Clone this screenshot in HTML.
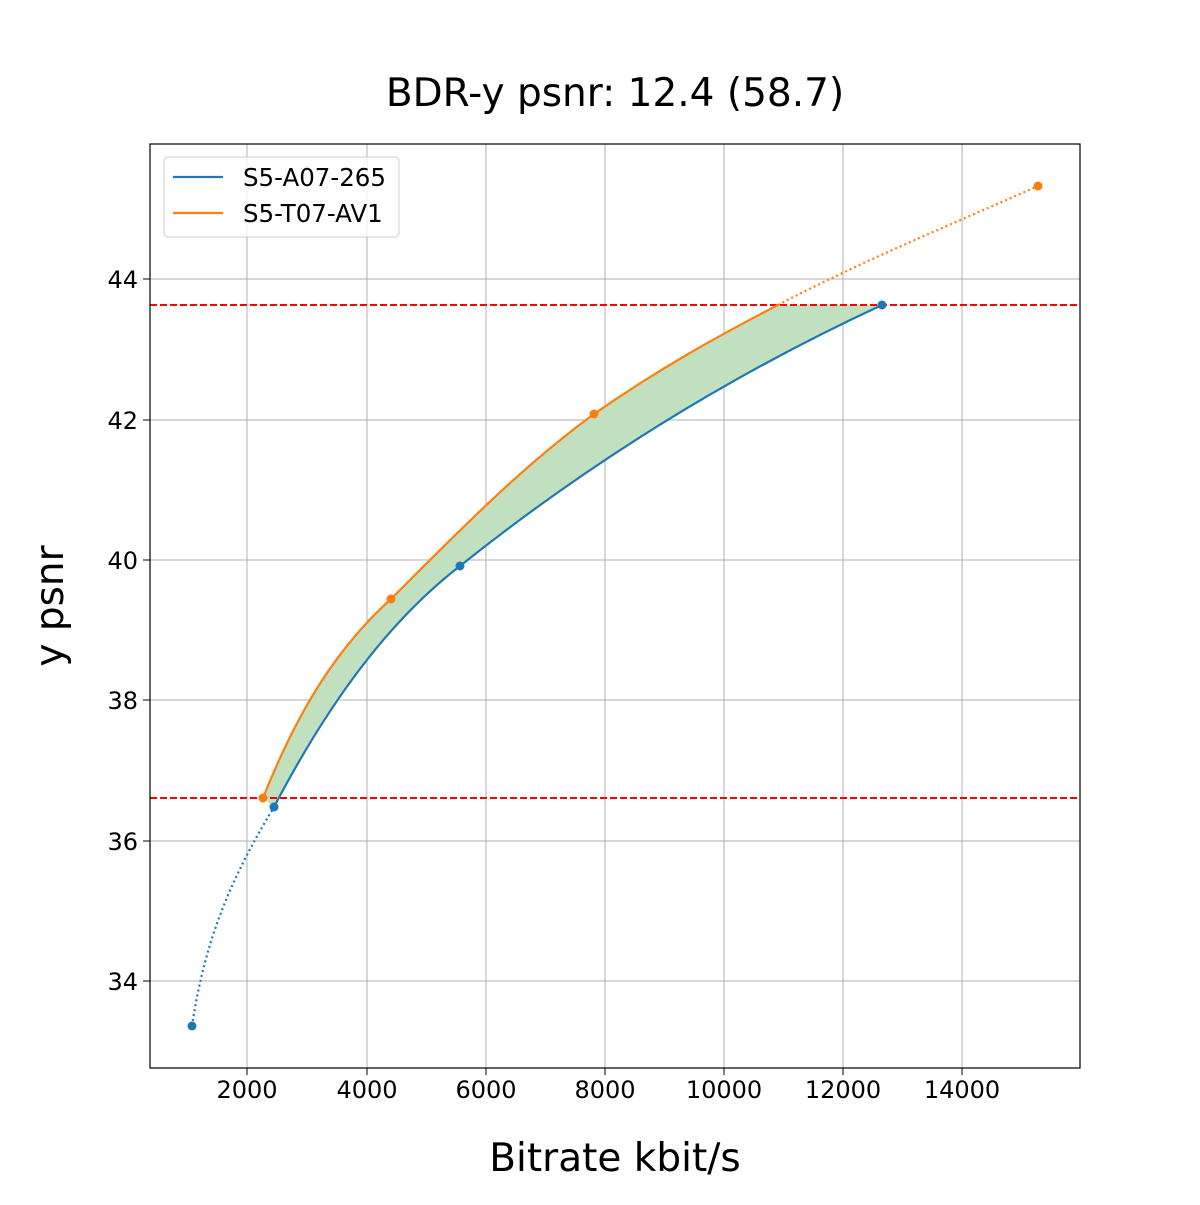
<!DOCTYPE html>
<html><head><style>body{margin:0;background:#fff}svg text{font-family:"DejaVu Sans","Liberation Sans",sans-serif}</style></head><body>
<svg width="1200" height="1200" xmlns="http://www.w3.org/2000/svg">
<rect width="1200" height="1200" fill="#fff"/>
<g stroke="#b0b0b0" stroke-width="1">
<line x1="247" y1="144" x2="247" y2="1068"/><line x1="367" y1="144" x2="367" y2="1068"/><line x1="486" y1="144" x2="486" y2="1068"/><line x1="605" y1="144" x2="605" y2="1068"/><line x1="724" y1="144" x2="724" y2="1068"/><line x1="843" y1="144" x2="843" y2="1068"/><line x1="962" y1="144" x2="962" y2="1068"/>
<line x1="150" y1="279" x2="1080" y2="279"/><line x1="150" y1="420" x2="1080" y2="420"/><line x1="150" y1="560" x2="1080" y2="560"/><line x1="150" y1="700" x2="1080" y2="700"/><line x1="150" y1="841" x2="1080" y2="841"/><line x1="150" y1="981" x2="1080" y2="981"/>
</g>
<path d="M263,798 C300,705 340,645 391,599 C455,535 520,468 594,414 C660,368 720,335 778,305 L882,305 C720,380 580,470 460,566 C390,620 330,700 274,807 Z" fill="rgb(192,224,192)"/>
<line x1="150" y1="305" x2="1080" y2="305" stroke="#f00" stroke-width="2" stroke-dasharray="7,3"/>
<line x1="150" y1="798" x2="1080" y2="798" stroke="#f00" stroke-width="2" stroke-dasharray="7,3"/>
<path d="M274,807 C330,700 390,620 460,566 C580,470 720,380 882,305" fill="none" stroke="#1f77b4" stroke-width="2.2"/>
<path d="M192,1026 C205,940 230,880 274,807" fill="none" stroke="#1f77b4" stroke-width="2.2" stroke-dasharray="2,3"/>
<path d="M263,798 C300,705 340,645 391,599 C455,535 520,468 594,414 C660,368 720,335 778,305" fill="none" stroke="#ff7f0e" stroke-width="2.2"/>
<path d="M778,305 C860,262 950,225 1038,186" fill="none" stroke="#ff7f0e" stroke-width="2.2" stroke-dasharray="2,3"/>
<g fill="#1f77b4"><circle cx="192" cy="1026" r="4.5"/><circle cx="274" cy="807" r="4.5"/><circle cx="460" cy="566" r="4.5"/><circle cx="882" cy="305" r="4.5"/></g>
<g fill="#ff7f0e"><circle cx="263" cy="798" r="4.5"/><circle cx="391" cy="599" r="4.5"/><circle cx="594" cy="414" r="4.5"/><circle cx="1038" cy="186" r="4.5"/></g>
<rect x="150" y="144" width="930" height="924" fill="none" stroke="#000" stroke-width="1.2"/>
<g stroke="#000"><line x1="247" y1="1068" x2="247" y2="1075"/><line x1="367" y1="1068" x2="367" y2="1075"/><line x1="486" y1="1068" x2="486" y2="1075"/><line x1="605" y1="1068" x2="605" y2="1075"/><line x1="724" y1="1068" x2="724" y2="1075"/><line x1="843" y1="1068" x2="843" y2="1075"/><line x1="962" y1="1068" x2="962" y2="1075"/>
<line x1="143" y1="279" x2="150" y2="279"/><line x1="143" y1="420" x2="150" y2="420"/><line x1="143" y1="560" x2="150" y2="560"/><line x1="143" y1="700" x2="150" y2="700"/><line x1="143" y1="841" x2="150" y2="841"/><line x1="143" y1="981" x2="150" y2="981"/></g>
<g font-size="24" text-anchor="middle" fill="#000">
<text x="247" y="1098">2000</text><text x="367" y="1098">4000</text><text x="486" y="1098">6000</text><text x="605" y="1098">8000</text><text x="724" y="1098">10000</text><text x="843" y="1098">12000</text><text x="962" y="1098">14000</text></g>
<g font-size="24" text-anchor="end" fill="#000">
<text x="138" y="288">44</text><text x="138" y="429">42</text><text x="138" y="569">40</text><text x="138" y="709">38</text><text x="138" y="850">36</text><text x="138" y="990">34</text></g>
<text x="615" y="106" font-size="39" text-anchor="middle">BDR-y psnr: 12.4 (58.7)</text>
<text x="615" y="1171" font-size="39" text-anchor="middle">Bitrate kbit/s</text>
<text transform="translate(63,606) rotate(-90)" font-size="39" text-anchor="middle">y psnr</text>
<rect x="164" y="157" width="235" height="80" rx="4" fill="#fff" fill-opacity="0.8" stroke="#ccc"/>
<line x1="173" y1="177" x2="223" y2="177" stroke="#1f77b4" stroke-width="2.2"/>
<line x1="173" y1="213" x2="223" y2="213" stroke="#ff7f0e" stroke-width="2.2"/>
<text x="243" y="186" font-size="24.5">S5-A07-265</text>
<text x="243" y="222" font-size="24.5">S5-T07-AV1</text>
</svg>
</body></html>
